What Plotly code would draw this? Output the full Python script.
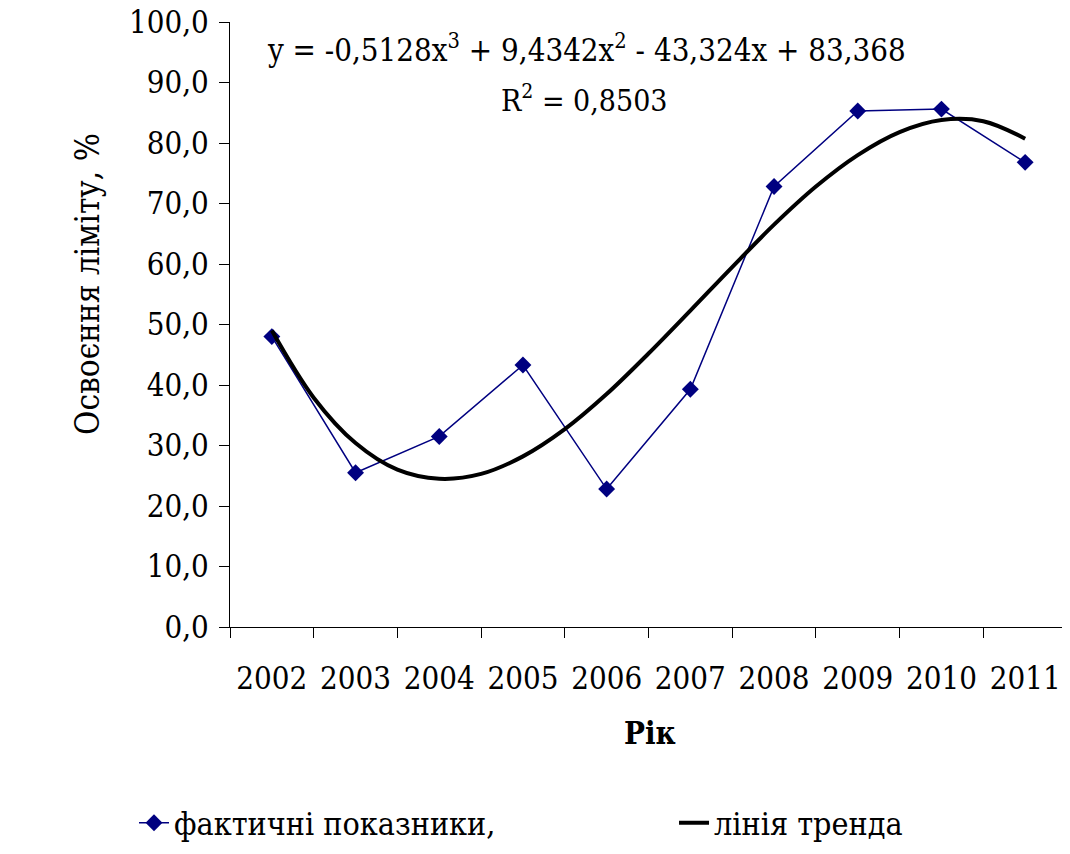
import plotly.graph_objects as go

years = ["2002", "2003", "2004", "2005", "2006", "2007", "2008", "2009", "2010", "2011"]
actual = [48.0, 25.5, 31.5, 43.3, 22.8, 39.3, 72.8, 85.3, 85.6, 76.8]

# trend line values read at half-year steps (index positions)
trend_x = [0, 0.5, 1, 1.5, 2, 2.5, 3, 3.5, 4, 4.5, 5, 5.5, 6, 6.5, 7, 7.5, 8, 8.5, 9]
trend_y = [49.0, 37.9, 30.4, 26.0, 24.5, 25.3, 28.2, 32.7, 38.5, 45.2, 52.3, 59.5, 66.5,
           72.8, 78.0, 81.8, 83.8, 83.6, 80.7]

y_ticks = [0, 10, 20, 30, 40, 50, 60, 70, 80, 90, 100]

FONT = "DejaVu Serif Condensed, DejaVu Serif"
idx = list(range(len(years)))

fig = go.Figure()
fig.add_trace(go.Scatter(
    x=idx, y=actual, mode="lines+markers", name="фактичні показники,",
    line=dict(color="#000080", width=1.5),
    marker=dict(symbol="diamond", size=13, color="#000080"),
    legend="legend",
))
fig.add_trace(go.Scatter(
    x=trend_x, y=trend_y, mode="lines", name="лінія тренда",
    line=dict(color="black", width=4, shape="spline"),
    legend="legend2",
))

W, H = 1062, 846
fig.update_layout(
    width=W, height=H,
    margin=dict(l=222, r=3, t=14, b=227),
    paper_bgcolor="white", plot_bgcolor="white",
    separators=", ",
    font=dict(family=FONT, size=31, color="black"),
    showlegend=True,
    legend=dict(orientation="h", x=-0.1147, xanchor="left", y=-0.324, yanchor="middle",
                font=dict(family=FONT, size=32), bgcolor="rgba(0,0,0,0)"),
    legend2=dict(orientation="h", x=0.5305, xanchor="left", y=-0.324, yanchor="middle",
                 font=dict(family=FONT, size=32), bgcolor="rgba(0,0,0,0)"),
    xaxis=dict(
        range=[-0.5, 9.5], tickmode="array", tickvals=idx, ticktext=years,
        ticks="", showline=True, linecolor="black", linewidth=1,
        showgrid=False, zeroline=False, automargin=False,
        ticklabelstandoff=24, ticklabeloverflow="allow",
        tickfont=dict(family=FONT, size=31),
        minor=dict(tick0=-0.5, dtick=1, ticks="outside", ticklen=10,
                   tickcolor="black", showgrid=False),
    ),
    yaxis=dict(
        range=[0, 100], tickmode="array", tickvals=y_ticks,
        tickformat=".1f", ticks="outside", ticklen=10, tickcolor="black",
        showline=True, linecolor="black", linewidth=1,
        showgrid=False, zeroline=False, automargin=False,
        ticklabelstandoff=4, ticklabeloverflow="allow",
        tickfont=dict(family=FONT, size=31),
    ),
    annotations=[
        dict(text="y = -0,5128x<sup>3</sup> + 9,4342x<sup>2</sup> - 43,324x + 83,368",
             xref="paper", yref="y", x=0.042, y=95.7, xanchor="left", yanchor="middle",
             showarrow=False, font=dict(family=FONT, size=31)),
        dict(text="R<sup>2</sup> = 0,8503",
             xref="paper", yref="y", x=0.424, y=87.4, xanchor="center", yanchor="middle",
             showarrow=False, font=dict(family=FONT, size=30)),
        dict(text="Освоєння ліміту, %", textangle=-90,
             xref="paper", yref="paper", x=-0.1697, y=0.567, xanchor="center", yanchor="middle",
             showarrow=False, font=dict(family=FONT, size=33)),
        dict(text="<b>Рік</b>",
             xref="paper", yref="paper", x=0.502, y=-0.175, xanchor="center", yanchor="middle",
             showarrow=False, font=dict(family=FONT, size=31)),
    ],
)

fig.write_html("out.html")
